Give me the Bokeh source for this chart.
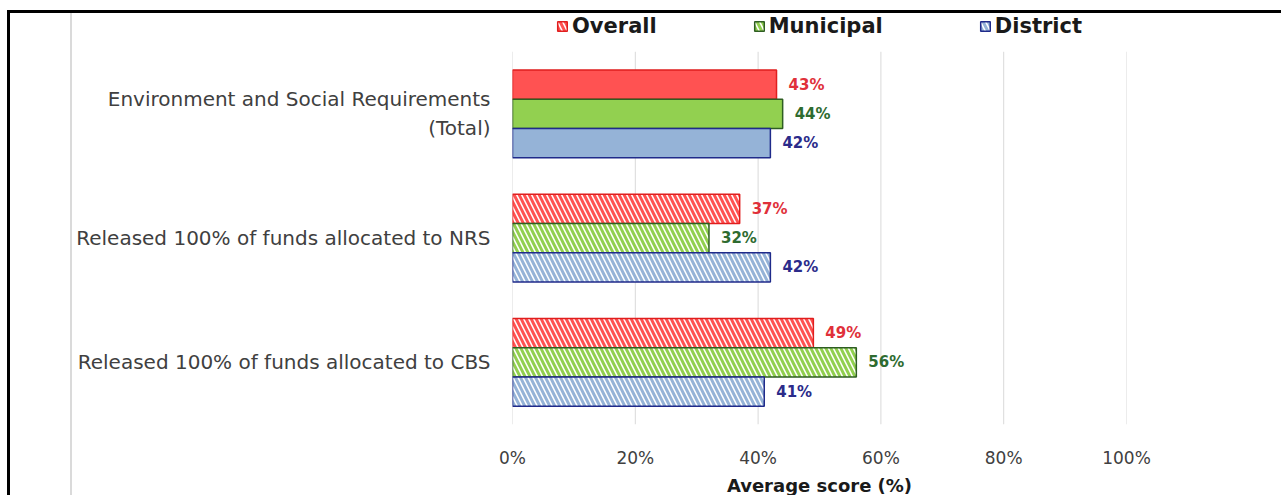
from bokeh.plotting import figure
from bokeh.models import (ColumnDataSource, Range1d, Legend, LegendItem,
                          NumeralTickFormatter, FixedTicker)
from bokeh.core.properties import value
from bokeh.embed import file_html
from bokeh.resources import INLINE

# ---- data ----
categories = ["Environment and Social Requirements\n(Total)",
              "Released 100% of funds allocated to NRS",
              "Released 100% of funds allocated to CBS"]
series = ["Overall", "Municipal", "District"]
overall = [0.43, 0.37, 0.49]
municipal = [0.44, 0.32, 0.56]
district = [0.42, 0.42, 0.41]
hatched = [" ", "left_diagonal_line", "left_diagonal_line"]
x_ticks = [0, 0.2, 0.4, 0.6, 0.8, 1.0]

fills = ["#FF5252", "#92D050", "#95B3D7"]
borders = ["#E01E1E", "#2E5E22", "#1F2A8A"]
label_colors = ["#E0303A", "#2E6B30", "#2B2B8A"]
offsets = [0.236, 0.0, -0.236]

FONT = "DejaVu Sans"

n = len(categories)
ypos = [n - 1 - k for k in range(n)]          # top category first
top_extra = 39 / (380 / n)                     # room above bars for the legend

p = figure(width=1274, height=485, output_backend="svg", toolbar_location=None,
           y_range=Range1d(-0.5, n - 0.5 + top_extra), x_range=Range1d(0, 1.0),
           min_border_left=502, min_border_right=158, min_border_top=0, min_border_bottom=67)
p.outline_line_color = None
p.background_fill_color = "white"
p.border_fill_alpha = 0
p.styles = {"border-top": "3px solid black", "border-left": "3px solid black",
            "margin-left": "7px", "margin-top": "10px",
            "background": "linear-gradient(to right, white 0px, white 60px, #DADADA 60px, #DADADA 62px, white 62px)"}

# vertical grid lines limited to the bar area
p.segment(x0=x_ticks, x1=x_ticks, y0=[-0.5] * len(x_ticks), y1=[n - 0.5] * len(x_ticks),
          line_color="#D9D9D9", line_width=1)

vals = [overall, municipal, district]
renderers = []
for i, name in enumerate(series):
    src = ColumnDataSource(dict(y=[y + offsets[i] for y in ypos], v=vals[i], hatch=hatched,
                                fill=[fills[i], "white", "white"],
                                lab=[f"{round(x*100)}%" for x in vals[i]]))
    r = p.hbar(y="y", right="v", left=0, height=0.236,
               source=src, fill_color="fill", line_color=borders[i], line_width=1.5,
               hatch_pattern="hatch", hatch_color=fills[i], hatch_weight=3, hatch_scale=10)
    renderers.append(r)
    p.text(x="v", y="y", text="lab", source=src,
           x_offset=12, text_baseline="middle", text_align="left",
           text_color=label_colors[i], text_font=value(FONT), text_font_style="bold",
           text_font_size="15px")

# axes
p.xaxis.ticker = x_ticks
p.xaxis.formatter = NumeralTickFormatter(format="0%")
p.xaxis.axis_line_color = None
p.xaxis.major_tick_line_color = None
p.xaxis.minor_tick_line_color = None
p.xaxis.major_tick_out = 0
p.xaxis.major_tick_in = 0
p.xaxis.major_label_text_font = FONT
p.xaxis.major_label_text_font_size = "17px"
p.xaxis.major_label_text_color = "#404040"
p.xaxis.major_label_standoff = 23
p.xaxis.axis_label = "Average score (%)"
p.xaxis.axis_label_text_font = FONT
p.xaxis.axis_label_text_font_size = "18px"
p.xaxis.axis_label_text_font_style = "bold"
p.xaxis.axis_label_text_color = "#1a1a1a"
p.xaxis.axis_label_standoff = 4

p.yaxis.ticker = FixedTicker(ticks=ypos)
p.yaxis.major_label_overrides = {y: c for y, c in zip(ypos, categories)}
p.yaxis.axis_line_color = None
p.yaxis.major_tick_line_color = None
p.yaxis.minor_tick_line_color = None
p.yaxis.major_tick_out = 0
p.yaxis.major_tick_in = 0
p.yaxis.major_label_text_font = FONT
p.yaxis.major_label_text_font_size = "20px"
p.yaxis.major_label_text_color = "#404040"
p.yaxis.major_label_standoff = 22

p.xgrid.grid_line_color = None
p.ygrid.grid_line_color = None

legend = Legend(items=[LegendItem(label=series[i], renderers=[renderers[i]], index=1)
                       for i in range(3)],
                orientation="horizontal", location=(44, 386),
                padding=0, margin=0, spacing=96, glyph_width=12, glyph_height=12,
                label_height=22, label_standoff=4,
                label_text_font=FONT, label_text_font_style="bold",
                label_text_font_size="21px", label_text_color="#1a1a1a",
                background_fill_alpha=0, border_line_color=None)
p.add_layout(legend, "center")

open("out.html", "w").write(file_html(p, INLINE))
